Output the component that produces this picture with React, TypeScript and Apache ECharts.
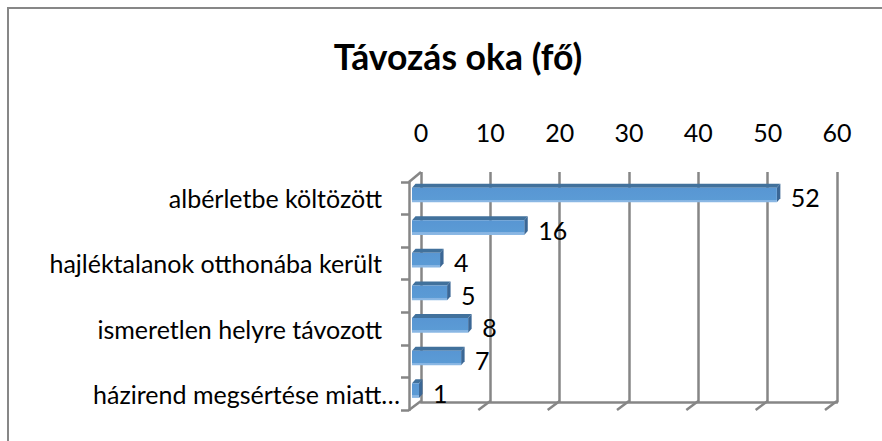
import React, { useEffect, useRef } from "react";
import * as echarts from "echarts";

const title = "Távozás oka (fő)";
const categories = [
  "albérletbe költözött",
  "",
  "hajléktalanok otthonába került",
  "",
  "ismeretlen helyre távozott",
  "",
  "házirend megsértése miatt…",
];
const values = [52, 16, 4, 5, 8, 7, 1];
const axisMin = 0;
const axisMax = 60;
const axisStep = 10;
const tickValues = [0, 10, 20, 30, 40, 50, 60];

const FONT = "Lato";
const GRID = "#868686";
const GW = 2.5;

export default function App() {
  const ref = useRef<HTMLDivElement>(null);
  useEffect(() => {
    document.body.style.margin = "0";
    const chart = echarts.init(ref.current!, null, { renderer: "svg" });
    const option: any = {
      animation: false,
      backgroundColor: "#ffffff",
      title: {
        text: title,
        left: 453,
        top: 33,
        textAlign: "center",
        textStyle: { fontFamily: FONT, fontWeight: "bold", fontSize: 35.5, color: "#000" },
      },
      grid: [
        { left: 421, top: 172, width: 416, height: 230 },
        { left: 412, top: 178.7, width: 421, height: 228.2 },
        { left: 409, top: 182, width: 12, height: 228 },
      ],
      xAxis: [
        {
          gridIndex: 0,
          type: "value",
          position: "top",
          min: axisMin,
          max: axisMax,
          interval: axisStep,
          axisLine: { show: true, lineStyle: { color: GRID, width: GW } },
          axisTick: { show: false },
          splitLine: { show: true, lineStyle: { color: GRID, width: GW } },
          axisLabel: { fontFamily: FONT, fontSize: 25, color: "#000", margin: 28 },
        },
        { gridIndex: 1, type: "value", min: axisMin, max: axisMax, show: false },
        { gridIndex: 2, type: "value", min: 0, max: 1, show: false },
      ],
      yAxis: [
        { gridIndex: 0, type: "value", min: 0, max: 1, show: false },
        { gridIndex: 1, type: "category", inverse: true, data: categories, show: false },
        {
          gridIndex: 2,
          type: "category",
          inverse: true,
          position: "left",
          data: categories.map((c, i) =>
            i === categories.length - 1
              ? { value: c, textStyle: { padding: [0, -18, 0, 0] } }
              : c
          ),
          axisLine: { show: true, lineStyle: { color: GRID, width: GW } },
          axisTick: { show: true, interval: 0, length: 8, lineStyle: { color: GRID, width: GW } },
          axisLabel: { interval: 1, fontFamily: FONT, fontSize: 25, color: "#000", margin: 27 },
          splitLine: { show: false },
        },
      ],
      graphic: [
        {
          type: "rect",
          shape: { x: 8, y: 8, width: 900, height: 460 },
          style: { fill: "none", stroke: "#878787", lineWidth: 2 },
          silent: true,
        },
        {
          type: "line",
          shape: { x1: 421, y1: 172, x2: 409, y2: 182 },
          style: { stroke: GRID, lineWidth: GW },
          silent: true,
        },
      ],
      series: [
        {
          type: "custom",
          xAxisIndex: 0,
          yAxisIndex: 0,
          clip: false,
          silent: true,
          data: tickValues.map((v) => [v, 0]),
          renderItem: (params: any, api: any) => {
            const p = api.coord([api.value(0), 0]);
            return {
              type: "line",
              shape: { x1: p[0], y1: p[1] - 1, x2: p[0] - 12, y2: p[1] + 8 },
              style: { stroke: GRID, lineWidth: GW },
            };
          },
        },
        {
          type: "custom",
          xAxisIndex: 1,
          yAxisIndex: 1,
          clip: false,
          silent: true,
          data: values.map((v, i) => [v, i]),
          encode: { x: 0, y: 1 },
          renderItem: (params: any, api: any) => {
            const v = api.value(0);
            const i = api.value(1);
            const s = api.coord([0, i]);
            const e = api.coord([v, i]);
            const h = api.size([0, 1])[1] * 0.45;
            const x0 = s[0];
            const x1 = e[0];
            const y0 = s[1] - h / 2;
            const y1 = s[1] + h / 2;
            const dx = 3.5;
            const dy = -4;
            return {
              type: "group",
              children: [
                {
                  type: "polygon",
                  shape: { points: [[x0, y0], [x0 + dx, y0 + dy], [x1 + dx, y0 + dy], [x1, y0]] },
                  style: { fill: "#41719c" },
                },
                {
                  type: "polygon",
                  shape: { points: [[x1, y0], [x1 + dx, y0 + dy], [x1 + dx, y1 + dy], [x1, y1]] },
                  style: { fill: "#3b6795" },
                },
                {
                  type: "rect",
                  shape: { x: x0, y: y0, width: x1 - x0, height: y1 - y0 },
                  style: {
                    fill: new echarts.graphic.LinearGradient(0, 0, 0, 1, [
                      { offset: 0, color: "#5896d3" },
                      { offset: 0.82, color: "#5b9bd5" },
                      { offset: 0.83, color: "#86b4e2" },
                      { offset: 1, color: "#8cb9e5" },
                    ]),
                  },
                },
                {
                  type: "text",
                  x: x1 + 14,
                  y: s[1] + 2,
                  style: {
                    text: String(v),
                    fontFamily: FONT,
                    fontSize: 25,
                    fill: "#000",
                    align: "left",
                    verticalAlign: "middle",
                  },
                },
              ],
            };
          },
        },
      ],
    };
    chart.setOption(option);
    return () => chart.dispose();
  }, []);
  return <div ref={ref} style={{ width: 882, height: 441 }} />;
}
